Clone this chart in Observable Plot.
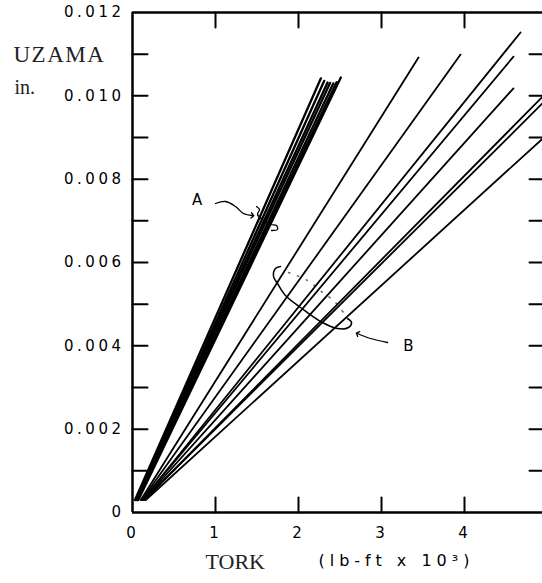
<!DOCTYPE html>
<html>
<head>
<meta charset="utf-8">
<script src="https://cdn.jsdelivr.net/npm/d3@7"></script>
<script src="https://cdn.jsdelivr.net/npm/@observablehq/plot@0.6"></script>
<style>
  html, body { margin: 0; padding: 0; background: white; }
</style>
</head>
<body>
<div id="chart"></div>
<script>
// ---- data ----
const torkTicks = [0, 1, 2, 3, 4, 5];
const torkInnerTicks = [1, 2, 3, 4];
const uzamaTicks = [0.001, 0.002, 0.003, 0.004, 0.005, 0.006, 0.007, 0.008, 0.009, 0.010, 0.011];
const uzamaLabelTicks = [0, 0.002, 0.004, 0.006, 0.008, 0.010, 0.012];
const uzamaTickLabels = ["0", "0.002", "0.004", "0.006", "0.008", "0.010", "0.012"];

// group A (steep bundle)
const groupAIds = ["A1", "A2", "A3", "A4", "A5", "A6", "A7"];
const groupAStartTork = [0.03, 0.04, 0.04, 0.05, 0.06, 0.06, 0.07];
const groupAStartUzama = [0.0003, 0.0003, 0.0003, 0.0003, 0.0003, 0.0003, 0.0003];
const groupAEndTork = [2.27, 2.31, 2.35, 2.38, 2.42, 2.46, 2.51];
const groupAEndUzama = [0.01042, 0.01036, 0.01032, 0.01031, 0.01030, 0.01033, 0.01044];

// group B (fan)
const groupBIds = ["B1", "B2", "B3", "B4", "B5", "B6", "B7", "B8"];
const groupBStartTork = [0.10, 0.11, 0.12, 0.12, 0.13, 0.14, 0.14, 0.16];
const groupBStartUzama = [0.0003, 0.0003, 0.0003, 0.0003, 0.0003, 0.0003, 0.0003, 0.0003];
const groupBEndTork = [3.446, 3.952, 4.675, 4.59, 4.59, 5.0, 5.0, 5.0];
const groupBEndUzama = [0.01092, 0.01099, 0.01152, 0.01094, 0.01018, 0.0101, 0.00994, 0.00908];

// annotations
const labelA = {tork: 0.78, uzama: 0.00749, text: "A"};
const labelB = {tork: 3.325, uzama: 0.00398, text: "B"};
const arrowATork = [1.0, 1.12, 1.241, 1.337, 1.446];
const arrowAUzama = [0.007416, 0.007464, 0.007344, 0.007176, 0.007128];
const braceATork = [1.494, 1.530, 1.506, 1.566, 1.663, 1.735, 1.747, 1.675];
const braceAUzama = [0.007344, 0.007272, 0.007152, 0.007032, 0.006912, 0.006888, 0.006792, 0.006768];
const braceBTork = [1.783, 1.723, 1.699, 1.747, 1.843, 2.024, 2.265, 2.470, 2.602, 2.639, 2.590];
const braceBUzama = [0.005904, 0.005856, 0.005664, 0.005496, 0.005208, 0.00492, 0.004584, 0.004416, 0.00444, 0.00456, 0.004656];
const arrowBTork = [3.072, 2.867, 2.711];
const arrowBUzama = [0.00408, 0.004176, 0.004296];
const dotsBTork = [1.880, 2.108, 2.289, 2.422, 2.542];
const dotsBUzama = [0.00576, 0.005568, 0.00528, 0.005088, 0.0048];

// ---- build tables ----
function segs(ids, x0, y0, x1, y1) {
  return ids.flatMap((id, i) => [
    {id, tork: x0[i], uzama: y0[i]},
    {id, tork: x1[i], uzama: y1[i]}
  ]);
}
const rowsA = segs(groupAIds, groupAStartTork, groupAStartUzama, groupAEndTork, groupAEndUzama);
const rowsB = segs(groupBIds, groupBStartTork, groupBStartUzama, groupBEndTork, groupBEndUzama);
const path = (xs, ys) => xs.map((x, i) => ({tork: x, uzama: ys[i]}));

const serif = "'Liberation Serif', 'DejaVu Serif', serif";
const sans = "'DejaVu Sans', sans-serif";

// straight tick shape for vectors
const tickShape = {draw(context, l) { context.moveTo(0, 0); context.lineTo(0, -l); }};
const tickOpts = {shape: tickShape, anchor: "start", stroke: "black", strokeWidth: 2};

const chart = Plot.plot({
  width: 542,
  height: 583,
  marginLeft: 132,
  marginRight: -5,
  marginTop: 12,
  marginBottom: 71,
  style: {fontFamily: sans, fontSize: "15px", color: "black", background: "white", overflow: "hidden"},
  x: {domain: [0, 5], range: [132, 547]},
  y: {domain: [0, 0.012], range: [512, 12]},
  marks: [
    // data lines
    Plot.line(rowsA, {x: "tork", y: "uzama", z: "id", stroke: "black", strokeWidth: 2.3}),
    Plot.line(rowsB, {x: "tork", y: "uzama", z: "id", stroke: "black", strokeWidth: 1.8}),
    // annotations
    Plot.line(path(arrowATork, arrowAUzama), {x: "tork", y: "uzama", curve: "catmull-rom", stroke: "black", strokeWidth: 1.3, markerEnd: "arrow"}),
    Plot.line(path(braceATork, braceAUzama), {x: "tork", y: "uzama", curve: "catmull-rom", stroke: "black", strokeWidth: 1.3}),
    Plot.line(path(braceBTork, braceBUzama), {x: "tork", y: "uzama", curve: "catmull-rom", stroke: "black", strokeWidth: 1.5}),
    Plot.line(path(arrowBTork, arrowBUzama), {x: "tork", y: "uzama", curve: "catmull-rom", stroke: "black", strokeWidth: 1.3, markerEnd: "arrow"}),
    Plot.line(path(dotsBTork, dotsBUzama), {x: "tork", y: "uzama", curve: "catmull-rom", stroke: "black", strokeWidth: 1.5, strokeDasharray: "1.5,8", strokeOpacity: 0.6}),
    Plot.text([labelA, labelB], {x: "tork", y: "uzama", text: "text", fontFamily: sans, fontSize: 15}),
    // frame
    Plot.ruleX([0, 5], {stroke: "black", strokeWidth: 2.5}),
    Plot.ruleY([0, 0.012], {stroke: "black", strokeWidth: 2.5}),
    // inward ticks
    Plot.vector(uzamaTicks, {y: d => d, frameAnchor: "left", rotate: 90, length: 15, ...tickOpts}),
    Plot.vector(uzamaTicks, {y: d => d, frameAnchor: "right", rotate: -90, length: 18, ...tickOpts}),
    Plot.vector(torkInnerTicks, {x: d => d, frameAnchor: "bottom", rotate: 0, length: 15, ...tickOpts}),
    Plot.vector(torkInnerTicks, {x: d => d, frameAnchor: "top", rotate: 180, length: 15, ...tickOpts}),
    // tick labels
    Plot.axisY(uzamaLabelTicks, {anchor: "left", tickSize: 0, tickPadding: 8, label: null,
      tickFormat: d => uzamaTickLabels[uzamaLabelTicks.indexOf(d)], fontSize: 15}),
    Plot.axisX(torkTicks, {anchor: "bottom", tickSize: 0, tickPadding: 15, label: null, fontSize: 15}),
    // axis titles
    Plot.text(["UZAMA"], {text: d => d, frameAnchor: "top-left", dx: -119, dy: 33, textAnchor: "start", fontFamily: serif, fontSize: 23, fill: "#222"}),
    Plot.text(["in."], {text: d => d, frameAnchor: "top-left", dx: -118, dy: 67, textAnchor: "start", fontFamily: serif, fontSize: 20, fill: "#222"}),
    Plot.text(["TORK"], {text: d => d, frameAnchor: "bottom-left", dx: 73, dy: 56, textAnchor: "start", fontFamily: serif, fontSize: 22, fill: "#222"}),
    Plot.text(["(lb-ft x 10³)"], {text: d => d, frameAnchor: "bottom-left", dx: 186, dy: 53, textAnchor: "start", fontFamily: sans, fontSize: 16})
  ]
});
// letter spacing for the typewriter-like labels
const svg = d3.select(chart);
svg.selectAll('g[aria-label="y-axis tick label"] text').style("letter-spacing", "3.5px");
svg.selectAll('g[aria-label="x-axis tick label"] text').style("letter-spacing", "3px");
svg.selectAll("text").filter(function() { return this.textContent.startsWith("(lb"); }).style("letter-spacing", "5px");
svg.selectAll("text").filter(function() { return this.textContent === "UZAMA"; }).style("letter-spacing", "1.5px");
document.getElementById("chart").appendChild(chart);
</script>
</body>
</html>
